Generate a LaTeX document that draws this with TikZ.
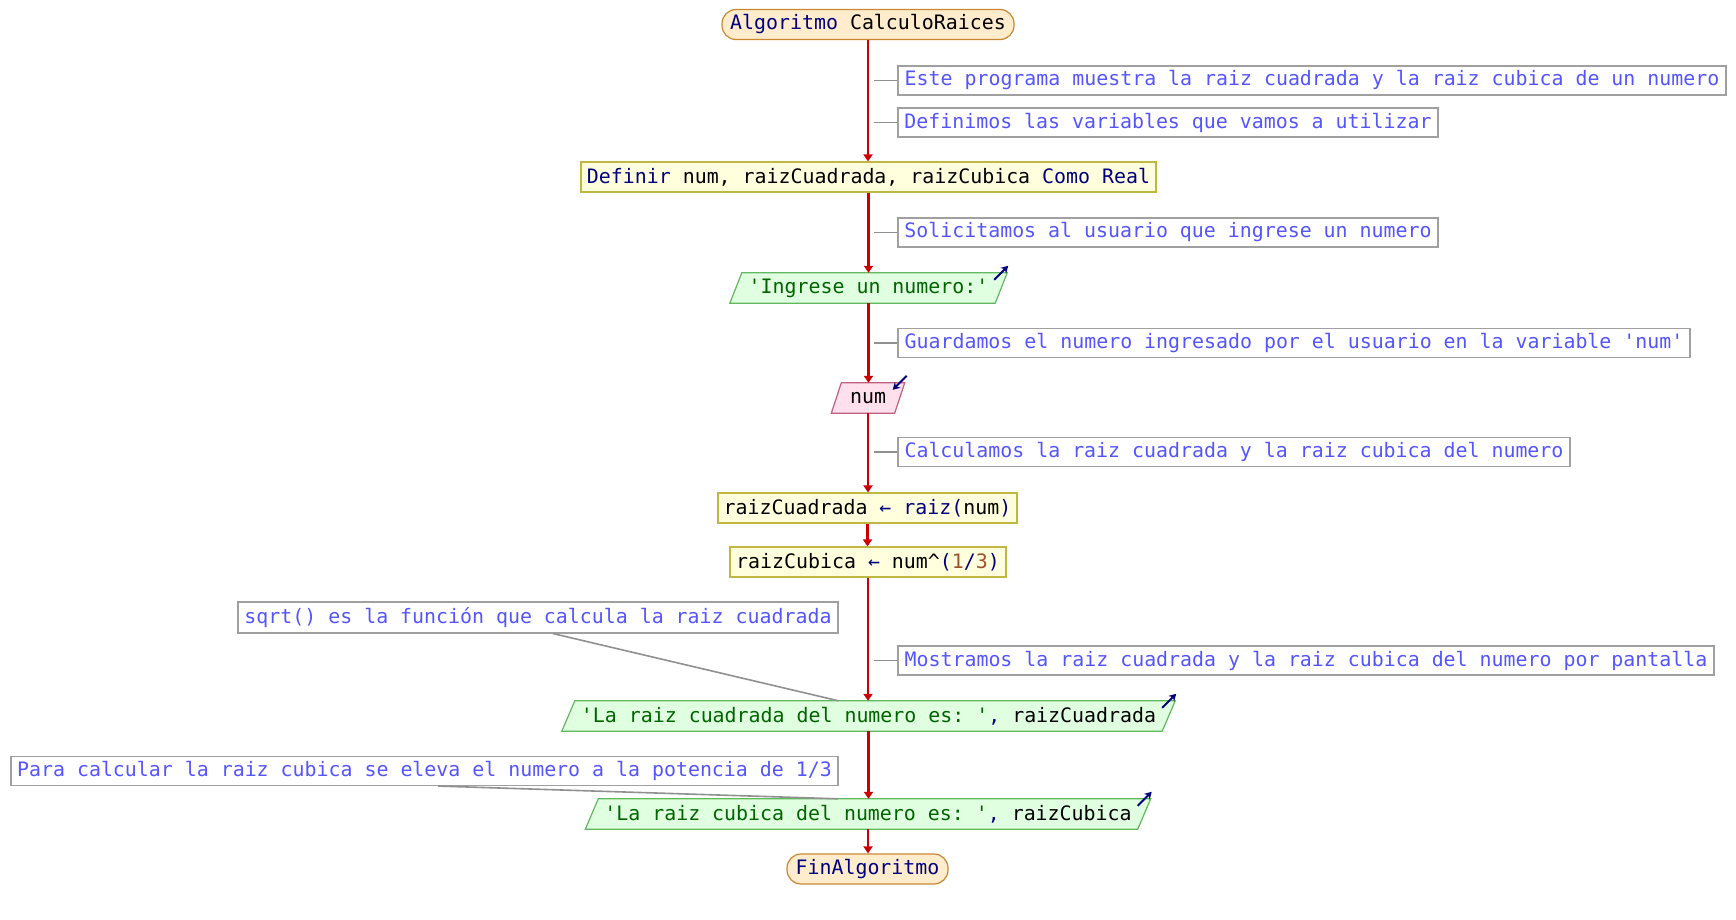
\documentclass[tikz,border=0pt]{standalone}
\usepackage{fontspec}
\setmonofont{DejaVu Sans Mono}
\usetikzlibrary{calc,backgrounds,arrows.meta}
\definecolor{kw}{RGB}{0,0,128}
\definecolor{strc}{RGB}{0,100,0}
\definecolor{numc}{RGB}{160,82,45}
\definecolor{cmt}{RGB}{85,85,255}
\definecolor{flow}{RGB}{204,0,0}
\definecolor{tickc}{RGB}{144,144,144}
\definecolor{termfill}{RGB}{255,236,204}
\definecolor{termdraw}{RGB}{200,136,51}
\definecolor{procfill}{RGB}{255,255,221}
\definecolor{procdraw}{RGB}{192,184,64}
\definecolor{outfill}{RGB}{224,255,224}
\definecolor{outdraw}{RGB}{96,184,96}
\definecolor{infill}{RGB}{255,224,236}
\definecolor{indraw}{RGB}{192,96,128}
\definecolor{cmtdraw}{RGB}{160,160,160}
\newcommand{\drawslant}[4]{%
  \begin{scope}[on background layer]
    \draw[draw=#3, fill=#2, line width=1.2pt]
      ([xshift=#4]#1.north west) -- ([xshift=#4]#1.north east) --
      ([xshift=-#4]#1.south east) -- ([xshift=-#4]#1.south west) -- cycle;
  \end{scope}}
\begin{document}
\begin{tikzpicture}[x=1pt,y=-1pt,
  every node/.style={font=\ttfamily\fontsize{19.9}{24}\selectfont, inner sep=0pt},
  term/.style={draw=termdraw, fill=termfill, line width=1.2pt, rounded corners=14pt, minimum height=30pt},
  proc/.style={draw=procdraw, fill=procfill, line width=1.2pt, minimum height=30pt},
  cmtbox/.style={draw=cmtdraw, fill=white, line width=1.1pt, minimum height=29pt, text=cmt},
  slant/.style={minimum height=30pt},
  flowline/.style={draw=flow, line width=2.2pt, -{Triangle[length=7pt,width=9pt]}},
  tickline/.style={draw=tickc, line width=1.8pt},
  connline/.style={draw=tickc, line width=1.6pt},
  iconarrow/.style={draw=kw, line width=2pt, -{Stealth[length=7pt,width=8pt]}},
]
\useasboundingbox (0,0) rectangle (1736,919);

\node[term, minimum width=292pt] (start) at (868,24.5) {{\color{kw}Algoritmo} CalculoRaices};
\node[cmtbox, minimum width=828pt] (c1) at (1312,80.5) {Este programa muestra la raiz cuadrada y la raiz cubica de un numero};
\node[cmtbox, minimum width=540pt] (c2) at (1168,122.5) {Definimos las variables que vamos a utilizar};
\node[proc, minimum width=575pt] (def) at (868.5,177) {{\color{kw}Definir} num, raizCuadrada, raizCubica {\color{kw}Como Real}};
\node[cmtbox, minimum width=540pt] (c3) at (1168,232.5) {Solicitamos al usuario que ingrese un numero};
\node[slant, minimum width=265pt, text=strc] (out1) at (868.5,288) {'Ingrese un numero:'};
\node[cmtbox, minimum width=792pt] (c4) at (1294,343) {Guardamos el numero ingresado por el usuario en la variable 'num'};
\node[slant, minimum width=63pt] (in1) at (868,398) {num};
\node[cmtbox, minimum width=672pt] (c5) at (1234,452) {Calculamos la raiz cuadrada y la raiz cubica del numero};
\node[proc, minimum width=299pt] (a1) at (867.5,508) {raizCuadrada {\color{kw}←} {\color{kw}raiz(}num{\color{kw})}};
\node[proc, minimum width=276pt] (a2) at (868,562) {raizCubica {\color{kw}←} num\textasciicircum{\color{kw}(}{\color{numc}1}{\color{kw}/}{\color{numc}3}{\color{kw})}};
\node[cmtbox, minimum width=600pt, minimum height=31pt] (c6) at (538,617.5) {sqrt() es la función que calcula la raiz cuadrada};
\node[cmtbox, minimum width=816pt] (c7) at (1306,660.5) {Mostramos la raiz cuadrada y la raiz cubica del numero por pantalla};
\node[slant, minimum width=600pt] (out2) at (868.5,716) {{\color{strc}'La raiz cuadrada del numero es: '}{\color{kw},} raizCuadrada};
\node[cmtbox, minimum width=827pt] (c8) at (424.5,771) {Para calcular la raiz cubica se eleva el numero a la potencia de 1/3};
\node[slant, minimum width=552pt] (out3) at (868,814) {{\color{strc}'La raiz cubica del numero es: '}{\color{kw},} raizCubica};
\node[term, minimum width=161pt] (end) at (867.5,869) {{\color{kw}FinAlgoritmo}};

\drawslant{out1}{outfill}{outdraw}{6pt}
\drawslant{out2}{outfill}{outdraw}{6.5pt}
\drawslant{out3}{outfill}{outdraw}{6.5pt}
\drawslant{in1}{infill}{indraw}{5pt}

% flow
\draw[flowline] (start.south) -- (start.south |- def.north);
\draw[flowline] (def.south) -- (def.south |- out1.north);
\draw[flowline] (out1.south) -- (out1.south |- in1.north);
\draw[flowline] (in1.south) -- (in1.south |- a1.north);
\draw[flowline] (a1.south) -- (a1.south |- a2.north);
\draw[flowline] (a2.south) -- (a2.south |- out2.north);
\draw[flowline] (out2.south) -- (out2.south |- out3.north);
\draw[flowline] (out3.south) -- (out3.south |- end.north);

% comment ticks
\foreach \c in {c1,c2,c3,c4,c5,c7}{
  \draw[tickline] (\c.west) -- +(-23,0);
}
\draw[connline] ([xshift=15pt]c6.south) -- ([xshift=-30pt]out2.north);
\draw[connline] ([xshift=13.5pt]c8.south) -- ([xshift=-30pt]out3.north);

% io icons
\draw[iconarrow] ($(out1.north east)+(-7,7)$) -- ($(out1.north east)+(7,-7)$);
\draw[iconarrow] ($(out2.north east)+(-6.5,7)$) -- ($(out2.north east)+(7.5,-7)$);
\draw[iconarrow] ($(out3.north east)+(-6.5,7)$) -- ($(out3.north east)+(7.5,-7)$);
\draw[iconarrow] ($(in1.north east)+(7,-7)$) -- ($(in1.north east)+(-7,7)$);
\end{tikzpicture}
\end{document}
